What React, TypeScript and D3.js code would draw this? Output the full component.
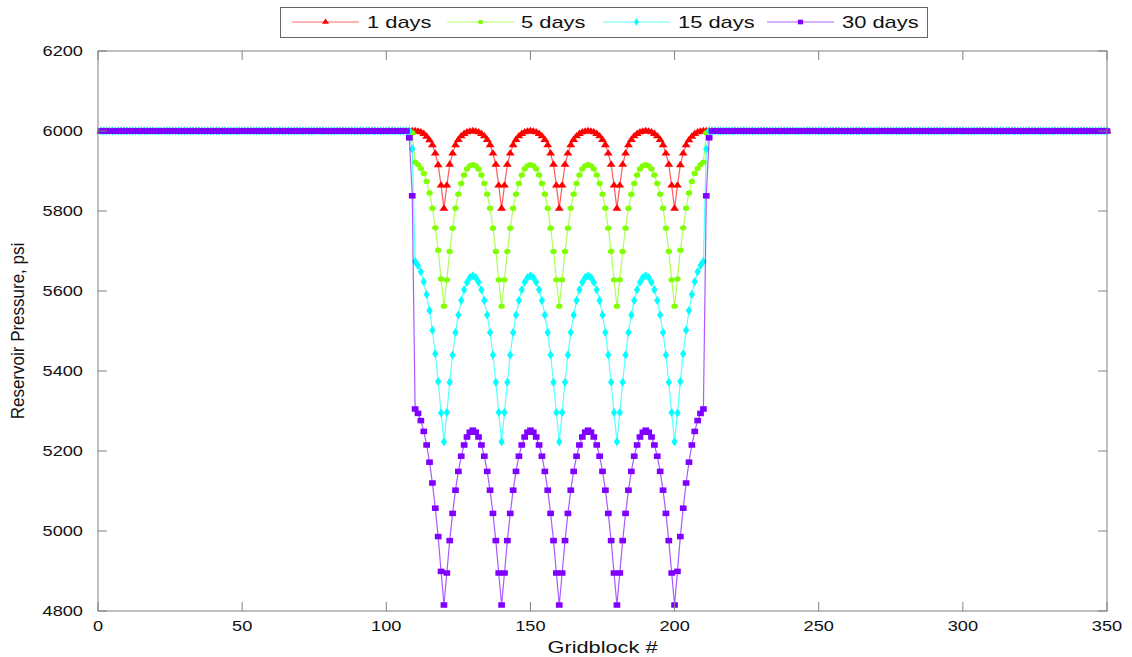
import React from 'react';
import * as d3 from 'd3';

// Gridblock numbers along the 1-D reservoir model
const gridblocks: number[] = d3.range(1, 351);

// Undisturbed reservoir pressure outside the stimulated zone (psi)
const initialPressure = 6000;

// First gridblock of the stimulated zone covered by the arrays below (108..212)
const zoneStart = 108;

// Pressure profile across the stimulated zone, 1 day of production (psi)
const pressure1Day: number[] = [
  6000, 6000, 6000, 5999, 5997, 5993, 5986, 5977, 5965, 5944, 5915, 5864,
  5806,
  5864, 5916, 5944, 5965, 5978, 5987, 5993, 5997, 5999, 6000, 5999, 5997, 5993, 5987, 5978, 5965, 5944, 5916, 5864,
  5806,
  5864, 5916, 5944, 5965, 5978, 5987, 5993, 5997, 5999, 6000, 5999, 5997, 5993, 5987, 5978, 5965, 5944, 5916, 5864,
  5806,
  5864, 5916, 5944, 5965, 5978, 5987, 5993, 5997, 5999, 6000, 5999, 5997, 5993, 5987, 5978, 5965, 5944, 5916, 5864,
  5806,
  5864, 5916, 5944, 5965, 5978, 5987, 5993, 5997, 5999, 6000, 5999, 5997, 5993, 5987, 5978, 5965, 5944, 5916, 5864,
  5806,
  5864, 5915, 5944, 5965, 5977, 5986, 5993, 5997, 5999, 6000, 6000, 6000,
];

// 5 days of production (psi)
const pressure5Days: number[] = [
  6000, 5995, 5922, 5916, 5906, 5894, 5874, 5845, 5807, 5758, 5702, 5630,
  5562,
  5628, 5699, 5757, 5807, 5842, 5869, 5890, 5905, 5913, 5916, 5913, 5905, 5890, 5869, 5842, 5807, 5757, 5699, 5628,
  5562,
  5628, 5699, 5757, 5807, 5842, 5869, 5890, 5905, 5913, 5916, 5913, 5905, 5890, 5869, 5842, 5807, 5757, 5699, 5628,
  5562,
  5628, 5699, 5757, 5807, 5842, 5869, 5890, 5905, 5913, 5916, 5913, 5905, 5890, 5869, 5842, 5807, 5757, 5699, 5628,
  5562,
  5628, 5699, 5757, 5807, 5842, 5869, 5890, 5905, 5913, 5916, 5913, 5905, 5890, 5869, 5842, 5807, 5757, 5699, 5628,
  5562,
  5630, 5702, 5758, 5807, 5845, 5874, 5894, 5906, 5916, 5922, 5995, 6000,
];

// 15 days of production (psi)
const pressure15Days: number[] = [
  6000, 5955, 5674, 5664, 5648, 5623, 5591, 5551, 5502, 5443, 5374, 5295,
  5223,
  5296, 5372, 5440, 5496, 5540, 5576, 5603, 5622, 5634, 5638, 5634, 5622, 5603, 5576, 5540, 5496, 5440, 5372, 5296,
  5223,
  5296, 5372, 5440, 5496, 5540, 5576, 5603, 5622, 5634, 5638, 5634, 5622, 5603, 5576, 5540, 5496, 5440, 5372, 5296,
  5223,
  5296, 5372, 5440, 5496, 5540, 5576, 5603, 5622, 5634, 5638, 5634, 5622, 5603, 5576, 5540, 5496, 5440, 5372, 5296,
  5223,
  5296, 5372, 5440, 5496, 5540, 5576, 5603, 5622, 5634, 5638, 5634, 5622, 5603, 5576, 5540, 5496, 5440, 5372, 5296,
  5223,
  5295, 5374, 5443, 5502, 5551, 5591, 5623, 5648, 5664, 5674, 5955, 6000,
];

// 30 days of production (psi)
const pressure30Days: number[] = [
  5983, 5838, 5305, 5294, 5276, 5249, 5215, 5172, 5120, 5057, 4986, 4899,
  4815,
  4895, 4976, 5044, 5102, 5149, 5187, 5215, 5235, 5247, 5252, 5247, 5235, 5215, 5187, 5149, 5102, 5044, 4976, 4895,
  4815,
  4895, 4976, 5044, 5102, 5149, 5187, 5215, 5235, 5247, 5252, 5247, 5235, 5215, 5187, 5149, 5102, 5044, 4976, 4895,
  4815,
  4895, 4976, 5044, 5102, 5149, 5187, 5215, 5235, 5247, 5252, 5247, 5235, 5215, 5187, 5149, 5102, 5044, 4976, 4895,
  4815,
  4895, 4976, 5044, 5102, 5149, 5187, 5215, 5235, 5247, 5252, 5247, 5235, 5215, 5187, 5149, 5102, 5044, 4976, 4895,
  4815,
  4899, 4986, 5057, 5120, 5172, 5215, 5249, 5276, 5294, 5305, 5838, 5983,
];

const seriesNames = ['1 days', '5 days', '15 days', '30 days'];
const seriesZones = [pressure1Day, pressure5Days, pressure15Days, pressure30Days];
const seriesColors = ['#ff0000', '#80ff00', '#00ffff', '#8000ff'];
const seriesSymbols = [d3.symbolTriangle, d3.symbolCircle, d3.symbolDiamond, d3.symbolSquare];
const seriesSymbolSizes = [26, 24, 26, 34];

const xTicks = [0, 50, 100, 150, 200, 250, 300, 350];
const yTicks = [4800, 5000, 5200, 5400, 5600, 5800, 6000, 6200];

const W = 1132;
const H = 657;
const plot = { left: 98, right: 1107, top: 51, bottom: 611 };
const FONT = '"Liberation Sans", Arial, Helvetica, sans-serif';
const AXIS = '#808080';
const TICK_LEN = 9;

type Pt = { g: number; p: number };

function buildSeries(zone: number[]): Pt[] {
  return gridblocks.map((g) => {
    const i = g - zoneStart;
    return { g, p: i >= 0 && i < zone.length ? zone[i] : initialPressure };
  });
}

export default function App() {
  const x = d3.scaleLinear().domain([0, 350]).range([plot.left, plot.right]);
  const y = d3.scaleLinear().domain([4800, 6200]).range([plot.bottom, plot.top]);
  const line = d3
    .line<Pt>()
    .x((d) => x(d.g))
    .y((d) => y(d.p));

  const series = seriesZones.map(buildSeries);

  const legendEntries = [
    { lineX: 292, textX: 367 },
    { lineX: 447, textX: 521 },
    { lineX: 603, textX: 678 },
    { lineX: 767, textX: 842 },
  ];

  const marker = (k: number) => d3.symbol(seriesSymbols[k], seriesSymbolSizes[k])() as string;

  return (
    <svg
      width={W}
      height={H}
      viewBox={`0 0 ${W} ${H}`}
      style={{ position: 'fixed', left: 0, top: 0, background: '#fff' }}
    >
      <rect x={0} y={0} width={W} height={H} fill="#fff" />

      {/* data series: line plus a marker at every gridblock */}
      {series.map((pts, k) => (
        <g key={seriesNames[k]}>
          <path d={line(pts) as string} fill="none" stroke={seriesColors[k]} strokeOpacity={0.65} strokeWidth={1.2} />
          {pts.map((d) => (
            <path
              key={d.g}
              d={marker(k)}
              fill={seriesColors[k]}
              transform={`translate(${x(d.g)},${y(d.p)}) scale(1.15,0.95)`}
            />
          ))}
        </g>
      ))}

      {/* axes box */}
      <rect
        x={plot.left}
        y={plot.top}
        width={plot.right - plot.left}
        height={plot.bottom - plot.top}
        fill="none"
        stroke={AXIS}
        strokeWidth={1}
      />

      {/* x ticks and labels */}
      {xTicks.map((t) => (
        <g key={`x${t}`}>
          <line x1={x(t)} x2={x(t)} y1={plot.bottom} y2={plot.bottom - TICK_LEN} stroke={AXIS} />
          <line x1={x(t)} x2={x(t)} y1={plot.top} y2={plot.top + TICK_LEN} stroke={AXIS} />
          <text
            transform={`translate(${x(t)},${plot.bottom + 20}) scale(1.3,1)`}
            textAnchor="middle"
            fontFamily={FONT}
            fontSize={14}
            fill="#111"
          >
            {t}
          </text>
        </g>
      ))}

      {/* y ticks and labels */}
      {yTicks.map((t) => (
        <g key={`y${t}`}>
          <line x1={plot.left} x2={plot.left + TICK_LEN} y1={y(t)} y2={y(t)} stroke={AXIS} />
          <line x1={plot.right} x2={plot.right - TICK_LEN} y1={y(t)} y2={y(t)} stroke={AXIS} />
          <text
            transform={`translate(${plot.left - 15},${y(t) + 5}) scale(1.3,1)`}
            textAnchor="end"
            fontFamily={FONT}
            fontSize={14}
            fill="#111"
          >
            {t}
          </text>
        </g>
      ))}

      {/* axis titles */}
      <text
        transform={`translate(${(plot.left + plot.right) / 2},${653}) scale(1.28,1)`}
        textAnchor="middle"
        fontFamily={FONT}
        fontSize={17}
        fill="#111"
      >
        Gridblock #
      </text>
      <text
        transform={`translate(24,${(plot.top + plot.bottom) / 2}) scale(1.05,1) rotate(-90)`}
        textAnchor="middle"
        fontFamily={FONT}
        fontSize={17}
        fill="#111"
      >
        Reservoir Pressure, psi
      </text>

      {/* legend */}
      <rect x={280.5} y={7.5} width={647} height={30} fill="#fff" stroke="#666" strokeWidth={1} />
      {legendEntries.map((e, k) => (
        <g key={`leg${k}`}>
          <line
            x1={e.lineX}
            x2={e.lineX + 67}
            y1={22}
            y2={22}
            stroke={seriesColors[k]}
            strokeOpacity={0.6}
            strokeWidth={1.1}
          />
          <path
            d={marker(k)}
            fill={seriesColors[k]}
            transform={`translate(${e.lineX + 33.5},22) scale(0.9,0.8)`}
          />
          <text
            transform={`translate(${e.textX},28) scale(1.37,1)`}
            fontFamily={FONT}
            fontSize={16}
            fill="#111"
          >
            {seriesNames[k]}
          </text>
        </g>
      ))}
    </svg>
  );
}
